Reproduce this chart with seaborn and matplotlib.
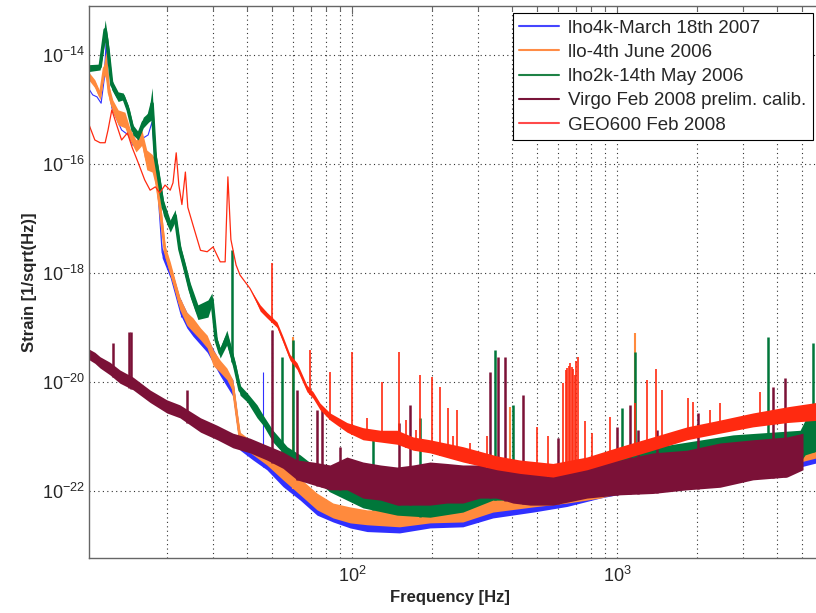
import numpy as np
import matplotlib
matplotlib.use("Agg")
import matplotlib.pyplot as plt
import seaborn as sns
from matplotlib.ticker import LogLocator, NullLocator, NullFormatter, LogFormatterMathtext

# Стиль в духе Matlab
sns.set_style("white")
plt.rcParams['font.family'] = ['Liberation Sans', 'DejaVu Sans']
plt.rcParams['mathtext.fontset'] = 'custom'
plt.rcParams['mathtext.rm'] = 'Liberation Sans'

# --- данные (частота в Гц, ASD в 1/sqrt(Hz)) ---
# LHO 4k
lho4k_freq = [10.0, 10.5, 10.9, 11.3, 11.6, 11.8, 12.0, 12.4, 12.9, 13.5, 14.3, 14.9, 15.6, 16.3,
              17.0, 17.6, 18.1, 18.5, 19.2, 20.6, 22.4, 23.8, 25.1, 28.4, 31.8, 35.5, 37.8, 42.3,
              47.7, 54.9, 63.7, 73.8, 84.8, 98.3, 114, 151, 197, 262, 340, 482, 647, 863, 1545,
              2740, 4910, 5830]
lho4k_hi = [2.7e-15, 1.85e-15, 1.7e-15, 1.3e-15, 3.5e-15, 1.7e-14, 3.5e-15, 1.07e-15, 6.9e-16,
            4.2e-16, 3.4e-16, 2.2e-16, 2.75e-16, 3.0e-16, 3.4e-16, 5.9e-16, 9.6e-17, 3.3e-17,
            2.9e-18, 1.4e-18, 3.5e-19, 1.9e-19, 1.4e-19, 6.5e-20, 2.3e-20, 1.1e-20, 1.07e-21,
            6.9e-22, 4.6e-22, 2.6e-22, 1.5e-22, 8.5e-23, 5.5e-23, 4.5e-23, 4.1e-23, 3.6e-23,
            4.1e-23, 4.5e-23, 7.4e-23, 8.5e-23, 1.15e-22, 1.5e-22, 2.45e-22, 3.4e-22, 5.2e-22, 6.5e-22]
lho4k_lo = lho4k_hi[:18] + [1.9e-18, 8.1e-19, 1.8e-19, 9.8e-20, 6.9e-20, 3.5e-20, 1.3e-20, 5.5e-21,
                            5.6e-22, 3.7e-22, 2.45e-22, 1.2e-22, 6.8e-23, 3.6e-23, 2.7e-23, 2.1e-23,
                            1.8e-23, 1.7e-23, 2.1e-23, 2.2e-23, 3.2e-23, 4.1e-23, 5.2e-23, 7.4e-23,
                            1.3e-22, 1.8e-22, 2.75e-22, 3.4e-22]
lho4k_spike_f = [22.7, 46.2]
lho4k_spike_top = [3.2e-19, 1.5e-20]

# LLO
llo_freq = [10.0, 10.7, 11.2, 11.6, 11.8, 12.1, 12.5, 13.1, 13.9, 14.5, 15.3, 16.1, 16.8, 17.6, 18.1,
            18.8, 19.7, 20.6, 21.5, 22.4, 23.8, 25.1, 26.8, 28.4, 29.9, 31.8, 33.7, 35.5, 36.8, 37.8,
            42.3, 47.7, 54.9, 63.7, 73.8, 84.8, 98.3, 114, 151, 197, 262, 340, 482, 647, 863, 1545,
            2740, 4910, 5830]
llo_hi = [5.3e-15, 3.5e-15, 2.1e-15, 7.4e-15, 1.2e-14, 2.8e-15, 1.5e-15, 9.8e-16, 8.9e-16, 4.6e-16,
          2.75e-16, 4.2e-16, 1.8e-16, 1.5e-16, 1.2e-16, 2.7e-17, 3.2e-18, 1.6e-18, 7.4e-19, 3.6e-19,
          1.9e-19, 1.5e-19, 9.8e-20, 7.2e-20, 3.9e-20, 2.5e-20, 1.8e-20, 1.1e-20, 2.8e-21, 1.2e-21,
          7.9e-22, 5.6e-22, 3.2e-22, 1.7e-22, 9.1e-23, 6.0e-23, 5.1e-23, 4.5e-23, 4.5e-23, 4.9e-23,
          5.3e-23, 8.5e-23, 9.6e-23, 1.3e-22, 1.7e-22, 3.0e-22, 4.2e-22, 6.5e-22, 7.9e-22]
llo_lo = [3.8e-15, 2.5e-15, 1.5e-15, 4.3e-15, 3.5e-15, 1.5e-15, 8.9e-16, 5.2e-16, 4.6e-16, 2.75e-16,
          1.66e-16, 2.2e-16, 7.8e-17, 7.1e-17, 4.1e-17, 1.15e-17, 1.9e-18, 9.1e-19, 4.5e-19, 2.1e-19,
          1.1e-19, 8.3e-20, 5.9e-20, 4.2e-20, 2.0e-20, 1.5e-20, 1.1e-20, 6.6e-21, 1.9e-21, 6.9e-22,
          4.6e-22, 3.0e-22, 1.6e-22, 8.5e-23, 4.5e-23, 3.2e-23, 2.6e-23, 2.4e-23, 2.2e-23, 2.6e-23,
          2.7e-23, 4.1e-23, 5.1e-23, 6.0e-23, 7.4e-23, 1.6e-22, 2.2e-22, 3.4e-22, 4.2e-22]
llo_spike_f = [59.9, 394, 1165]
llo_spike_top = [6.7e-20, 3.5e-21, 7.9e-20]

# LHO 2k
lho2k_freq = [10.0, 11.2, 11.7, 12.0, 12.4, 13.1, 13.7, 14.3, 14.9, 15.6, 16.3, 17.1, 17.6, 18.1,
              18.5, 19.4, 20.6, 21.5, 22.4, 23.4, 24.5, 26.2, 28.6, 29.6, 30.7, 31.8, 33.7, 36.1,
              37.8, 40.2, 43.8, 46.2, 50.3, 56.9, 63.7, 71.3, 82.6, 110, 148, 197, 262, 340, 482,
              863, 1545, 2740, 4910, 5130, 5830]
lho2k_hi = [6.6e-15, 6.8e-15, 4.4e-14, 1.9e-14, 3.5e-15, 2.1e-15, 2.0e-15, 1.2e-15, 5.2e-16, 3.9e-16,
            7.2e-16, 8.9e-16, 2.5e-15, 1.8e-16, 9.6e-17, 2.2e-17, 9.3e-18, 1.45e-17, 3.5e-18, 1.6e-18,
            6.6e-19, 2.6e-19, 3.2e-19, 4.3e-19, 7.2e-20, 4.2e-20, 8.9e-20, 2.5e-20, 8.7e-21, 6.3e-21,
            3.8e-21, 2.45e-21, 1.3e-21, 6.5e-22, 4.6e-22, 3.0e-22, 1.7e-22, 1.05e-22, 8.5e-23, 7.8e-23,
            9.6e-23, 1.3e-22, 2.0e-22, 4.6e-22, 6.9e-22, 1.07e-21, 1.3e-21, 2.0e-21, 2.45e-21]
lho2k_lo = [4.9e-15, 5.3e-15, 1.9e-14, 8.1e-15, 2.3e-15, 1.4e-15, 1.5e-15, 7.9e-16, 3.4e-16, 2.75e-16,
            4.6e-16, 5.9e-16, 6.5e-16, 9.6e-17, 5.1e-17, 1.15e-17, 5.6e-18, 8.7e-18, 2.1e-18, 9.1e-19,
            3.6e-19, 1.4e-19, 1.55e-19, 2.6e-19, 4.8e-20, 2.75e-20, 4.8e-20, 1.5e-20, 5.7e-21, 4.3e-21,
            2.2e-21, 1.6e-21, 7.9e-22, 4.1e-22, 2.6e-22, 1.7e-22, 9.6e-23, 4.9e-23, 3.6e-23, 3.3e-23,
            4.1e-23, 6.8e-23, 6.8e-23, 1.05e-22, 1.6e-22, 2.45e-22, 3.4e-22, 4.6e-22, 5.6e-22]
lho2k_spike_f = [35.2, 54.5, 59.9, 120, 181, 347, 405, 1045, 1170, 3715, 5500]
lho2k_spike_top = [2.6e-18, 2.9e-20, 5.9e-20, 8.7e-22, 2.2e-21, 3.9e-20, 3.8e-21, 3.3e-21, 3.5e-20,
                   6.7e-20, 5.2e-20]

# Virgo
virgo_freq = [10.0, 10.7, 11.2, 12.2, 13.3, 14.9, 17.3, 20.0, 22.4, 26.8, 31.0, 35.5, 41.2, 47.7,
              54.9, 62.0, 71.3, 82.6, 95.7, 110, 128, 148, 170, 197, 228, 262, 304, 352, 405, 470,
              573, 770, 1026, 1367, 1837, 2448, 3258, 4385, 5035]
virgo_hi = [4.2e-20, 3.5e-20, 2.9e-20, 2.3e-20, 1.66e-20, 1.23e-20, 7.1e-21, 4.7e-21, 3.8e-21, 2.2e-21,
            1.6e-21, 1.15e-21, 9.3e-22, 6.9e-22, 5.2e-22, 3.7e-22, 3.4e-22, 3.0e-22, 4.2e-22, 3.4e-22,
            3.0e-22, 2.75e-22, 3.0e-22, 3.4e-22, 3.2e-22, 3.0e-22, 3.0e-22, 2.75e-22, 2.45e-22, 2.45e-22,
            2.45e-22, 2.75e-22, 3.7e-22, 5.0e-22, 5.6e-22, 7.6e-22, 8.7e-22, 9.8e-22, 1.15e-21]
virgo_lo = [2.7e-20, 2.2e-20, 1.8e-20, 1.35e-20, 9.5e-21, 7.2e-21, 4.2e-21, 2.7e-21, 2.2e-21, 1.2e-21,
            8.7e-22, 6.2e-22, 5.0e-22, 3.7e-22, 2.6e-22, 1.6e-22, 1.3e-22, 1.05e-22, 1.05e-22, 7.4e-23,
            6.8e-23, 5.5e-23, 5.5e-23, 5.5e-23, 6.0e-23, 6.0e-23, 7.4e-23, 7.4e-23, 6.0e-23, 5.5e-23,
            5.5e-23, 7.4e-23, 8.5e-23, 9.0e-23, 1.05e-22, 1.17e-22, 1.6e-22, 1.8e-22, 2.45e-22]
virgo_spike_f = [12.5, 14.4, 14.6, 23.8, 50.0, 62.0, 73.8, 77.0, 90.1, 151, 166, 332, 355, 378, 442,
                 599, 1000, 1118, 1200, 1416, 2020, 3880, 4300]
virgo_spike_top = [5.2e-20, 8.3e-20, 8.3e-20, 7.1e-21, 8.9e-20, 7.1e-21, 3.1e-21, 3.1e-21, 6.5e-22,
                   1.8e-21, 3.8e-21, 1.5e-20, 2.9e-20, 2.9e-20, 5.8e-21, 9.3e-22, 1.5e-21, 3.8e-21,
                   1.3e-21, 1.3e-21, 2.7e-21, 8.1e-21, 1.2e-20]

# GEO600
geo_freq = [10.0, 10.7, 11.2, 11.7, 12.0, 12.4, 13.0, 13.5, 14.2, 14.8, 15.6, 16.5, 17.3, 18.1, 18.8,
            19.7, 20.6, 21.1, 21.7, 22.2, 22.8, 23.5, 24.0, 25.1, 26.8, 28.4, 29.9, 31.8, 33.2, 34.0,
            34.9, 36.5, 37.8, 41.2, 45.0, 47.7, 52.1, 54.9, 58.3, 62.0, 67.6, 71.3, 75.7, 82.6, 95.7,
            110, 128, 148, 170, 197, 262, 352, 430, 573, 770, 1026, 1367, 1837, 2448, 3258, 4385, 5830]
geo_hi = [6.5e-16, 2.75e-16, 2.45e-16, 2.45e-16, 4.2e-16, 9.8e-16, 4.8e-16, 2.75e-16, 3.7e-16, 2.0e-16,
          1.05e-16, 5.1e-17, 3.3e-17, 3.8e-17, 2.95e-17, 4.1e-17, 3.3e-17, 4.5e-17, 1.6e-16, 4.1e-17,
          1.8e-17, 7.1e-17, 1.6e-17, 7.6e-18, 2.6e-18, 2.45e-18, 3.0e-18, 1.6e-18, 1.6e-18, 5.8e-17,
          4.1e-18, 1.4e-18, 9.1e-19, 5.2e-19, 2.6e-19, 1.9e-19, 1.26e-19, 6.8e-20, 3.2e-20, 2.25e-20,
          8.7e-21, 6.6e-21, 4.1e-21, 2.7e-21, 1.8e-21, 1.45e-21, 1.3e-21, 1.3e-21, 9.8e-22, 8.7e-22,
          6.5e-22, 4.4e-22, 3.7e-22, 3.2e-22, 4.2e-22, 6.5e-22, 9.8e-22, 1.5e-21, 2.0e-21, 2.7e-21,
          3.5e-21, 4.3e-21]
geo_lo = geo_hi[:34] + [2.0e-19, 1.5e-19, 1.0e-19, 5.3e-20, 2.5e-20, 1.7e-20, 6.6e-21, 5.0e-21, 3.1e-21,
                        2.0e-21, 1.2e-21, 8.7e-22, 7.9e-22, 7.2e-22, 5.6e-22, 5.0e-22, 3.4e-22, 2.45e-22,
                        2.1e-22, 1.8e-22, 2.45e-22, 3.7e-22, 5.6e-22, 8.7e-22, 1.15e-21, 1.5e-21,
                        1.8e-21, 2.0e-21]
geo_spike_f = [50.0, 69.5, 82.6, 100, 114, 130, 151, 160, 175, 181, 200, 215, 230, 240, 249, 279, 323,
               499, 549, 625, 641, 650, 658, 667, 676, 685, 693, 702, 711, 757, 805, 942, 1165, 1297,
               1403, 1479, 1854, 1940, 2244, 2448, 3470]
geo_spike_top = [1.5e-18, 3.9e-20, 1.5e-20, 3.5e-20, 2.2e-21, 1.0e-20, 3.5e-20, 2.0e-21, 1.3e-21,
                 1.35e-20, 1.23e-20, 8.1e-21, 3.3e-21, 1.0e-21, 3.1e-21, 7.6e-22, 1.0e-21,
                 1.5e-21, 1.0e-21, 9.5e-21, 1.66e-20, 1.8e-20, 2.0e-20, 2.2e-20, 1.9e-20, 1.7e-20,
                 1.35e-20, 2.4e-20, 2.9e-20, 1.9e-21, 1.15e-21, 2.3e-21, 4.1e-21, 1.1e-20,
                 1.74e-20, 7.1e-21, 5.1e-21, 4.3e-21, 3.1e-21, 4.1e-21, 6.6e-21]

labels = ['lho4k-March 18th 2007', 'llo-4th June 2006', 'lho2k-14th May 2006',
          'Virgo Feb 2008 prelim. calib.', 'GEO600 Feb 2008']

series = [
    (lho4k_freq, lho4k_lo, lho4k_hi, lho4k_spike_f, lho4k_spike_top, '#3030ff', 0.8, 0.8),
    (llo_freq, llo_lo, llo_hi, llo_spike_f, llo_spike_top, '#ff8a3d', 2.0, 1.5),
    (lho2k_freq, lho2k_lo, lho2k_hi, lho2k_spike_f, lho2k_spike_top, '#00773a', 2.5, 1.8),
    (virgo_freq, virgo_lo, virgo_hi, virgo_spike_f, virgo_spike_top, '#7b1137', 1.2, 1.8),
    (geo_freq, geo_lo, geo_hi, geo_spike_f, geo_spike_top, '#ff2a10', 0.9, 1.2),
]
legend_colors = ['#4646ff', '#ff8c46', '#1e8246', '#781439', '#ff4a4a']

fig = plt.figure(figsize=(8.16, 6.13), dpi=100)
ax = fig.add_axes([89 / 816, 55.3 / 613, 741 / 816, 551.7 / 613])
ax.set_xscale('log')
ax.set_yscale('log')

for i, (freq, lo, hi, sf, st, col, lw, slw) in enumerate(series):
    z = 2.1 + 0.1 * i
    lo = np.array(lo)
    hi = np.array(hi)
    ax.fill_between(freq, lo, hi, color=col, linewidth=0, zorder=z)
    center = np.sqrt(lo * hi)
    sns.lineplot(x=freq, y=center, ax=ax, color=col, linewidth=lw, label=labels[i],
                 estimator=None, sort=False, zorder=z)
    # пики (линии) — от нижней огибающей до вершины
    base = 10 ** np.interp(np.log10(sf), np.log10(freq), np.log10(lo))
    ax.vlines(sf, base, st, color=col, linewidth=slw, zorder=z)

ax.set_xlim(10.17, 6366)
ax.set_ylim(5.97e-24, 7.9e-14)

ax.xaxis.set_major_locator(LogLocator(base=10))
ax.xaxis.set_minor_locator(LogLocator(base=10, subs=np.arange(2, 10)))
ax.xaxis.set_minor_formatter(NullFormatter())
ax.xaxis.set_major_formatter(LogFormatterMathtext())
ax.set_yticks([1e-22, 1e-20, 1e-18, 1e-16, 1e-14])
ax.yaxis.set_minor_locator(NullLocator())
ax.yaxis.set_major_formatter(LogFormatterMathtext())

ax.set_axisbelow(True)
ax.grid(True, which='major', axis='both', linestyle=(0, (1, 3)), color='#333333', linewidth=0.8)
ax.grid(True, which='minor', axis='x', linestyle=(0, (1, 3)), color='#333333', linewidth=0.8)

ax.tick_params(which='both', direction='in', top=True, right=True, color='#666666')
ax.tick_params(which='major', length=6, width=0.8, labelsize=13)
ax.tick_params(which='minor', length=3.5, width=0.8)
ax.tick_params(axis='x', pad=6)
ax.tick_params(axis='y', pad=3)
for s in ax.spines.values():
    s.set_color('#666666')
    s.set_linewidth(1.0)

ax.set_xlabel('Frequency [Hz]', fontsize=12, fontweight='bold')
ax.set_ylabel('Strain [1/sqrt(Hz)]', fontsize=12, fontweight='bold')
ax.xaxis.set_label_coords((450 - 89) / 741, -(590 - 557.7) / 551.7)
ax.yaxis.set_label_coords((37 - 89) / 741, 0.5)

leg = ax.legend(loc='upper right', bbox_to_anchor=(813 / 816, 600 / 613), bbox_transform=fig.transFigure,
                fontsize=13.5, frameon=True, fancybox=False, framealpha=1, edgecolor='black',
                handlelength=2.1, borderaxespad=0, borderpad=0.35, labelspacing=0.38, handletextpad=0.5)
leg.get_frame().set_linewidth(0.8)
for h, c in zip(leg.get_lines(), legend_colors):
    h.set_linewidth(1.5)
    h.set_color(c)

fig.savefig('out.png', dpi=100)
